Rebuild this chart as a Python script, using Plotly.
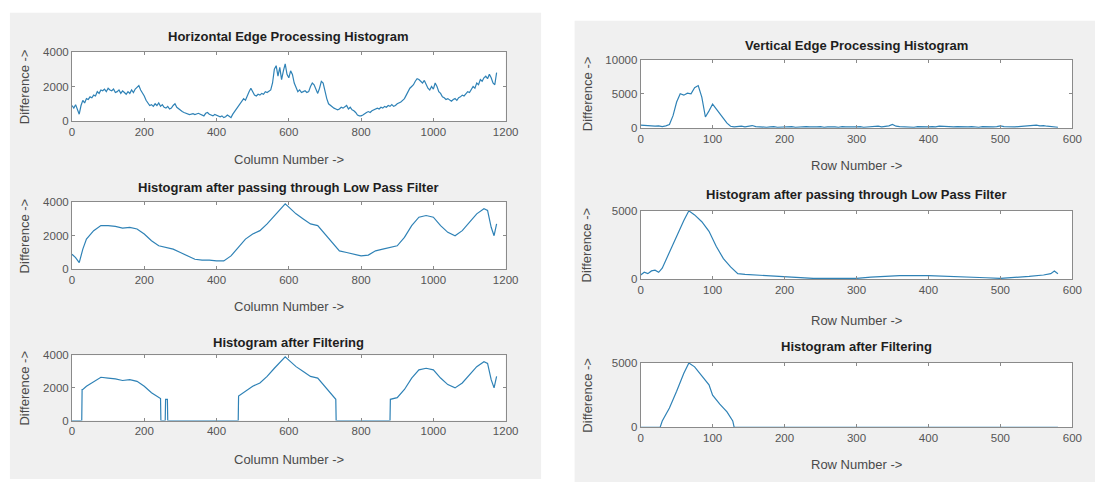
import plotly.graph_objects as go

# ---------------- DATA ----------------
# Left figure: horizontal edge processing (columns)
hor_x = list(range(0, 1180, 5))
hor_edge = [
    900, 750, 950, 600, 400, 900, 1200, 1050, 1300, 1250, 1400, 1350, 1500, 1450, 1700, 1600, 1800, 1750, 1850, 1700,
    1900, 1800, 1750, 1850, 1650, 1700, 1800, 1600, 1750, 1650, 1550, 1700, 1600, 1800, 1650, 1850, 1950, 2050, 1800, 1650,
    1450, 1200, 1050, 900, 950, 850, 1000, 900, 1050, 850, 950, 800, 750, 850, 700, 750, 900, 1000, 800, 700,
    600, 550, 500, 450, 420, 380, 400, 430, 380, 420, 450, 400, 350, 300, 450, 500, 400, 350, 300, 380,
    350, 300, 250, 300, 200, 250, 350, 280, 200, 400, 550, 700, 850, 1000, 1100, 1300, 1200, 1500, 1700, 1900,
    1700, 1500, 1450, 1550, 1500, 1600, 1550, 1700, 1650, 1750, 1800, 2200, 3000, 3200, 2600, 3100, 2400, 2900, 3300, 2700,
    2500, 2900, 2700, 2200, 1900, 1700, 1800, 1650, 1700, 1750, 1650, 1700, 2000, 2200, 2100, 1800, 1600, 1900, 2300, 2200,
    1700, 1300, 1000, 900, 800, 750, 700, 650, 700, 800, 750, 850, 900, 700, 800, 650, 600, 500, 350, 300,
    300, 350, 450, 500, 550, 500, 600, 650, 700, 750, 700, 800, 750, 850, 800, 900, 850, 950, 850, 900,
    1000, 1050, 1100, 1200, 1300, 1500, 1700, 1900, 2000, 2100, 2300, 2450, 2400, 2300, 2200, 2350, 2100, 1900, 1800, 2000,
    1850, 2200, 2000, 1700, 1600, 1400, 1350, 1250, 1300, 1200, 1150, 1250, 1300, 1200, 1350, 1400, 1500, 1450, 1600, 1700,
    1650, 1800, 2000, 1900, 2200, 2100, 2400, 2300, 2500, 2600, 2450, 2700, 2500, 2200, 2100, 2800,
]

lpf_h_x = [0, 10, 20, 30, 40, 60, 80, 100, 120, 140, 160, 180, 200, 220, 240, 260, 280, 300, 320, 340,
           360, 380, 400, 420, 440, 460, 480, 500, 520, 540, 560, 580, 590, 600, 620, 640, 660, 680, 700,
           720, 740, 760, 780, 800, 820, 840, 860, 880, 900, 920, 940, 960, 980, 1000, 1020, 1040, 1060,
           1080, 1100, 1120, 1140, 1150, 1160, 1168, 1175]
lpf_h = [900, 700, 400, 1200, 1800, 2300, 2600, 2600, 2550, 2450, 2500, 2400, 2100, 1700, 1400, 1300, 1200, 1000, 800, 600,
         550, 550, 500, 500, 800, 1300, 1800, 2100, 2300, 2700, 3200, 3700, 3900, 3700, 3300, 3000, 2700, 2600, 2100,
         1600, 1100, 1000, 900, 800, 850, 1100, 1200, 1300, 1400, 1900, 2600, 3100, 3200, 3100, 2600, 2200, 2000,
         2300, 2800, 3300, 3600, 3500, 2500, 2000, 2700]

filt_h_x = [0, 27, 28, 30, 40, 60, 80, 100, 120, 140, 160, 180, 200, 220, 240, 245, 246, 258, 259, 264, 265,
            460, 461, 480, 500, 520, 540, 560, 580, 590, 600, 620, 640, 660, 680, 700, 720, 730, 731,
            880, 881, 900, 920, 940, 960, 980, 1000, 1020, 1040, 1060, 1080, 1100, 1120, 1140, 1150, 1160, 1168, 1175]
filt_h = [0, 0, 1900, 1900, 2100, 2400, 2650, 2600, 2550, 2450, 2500, 2400, 2100, 1700, 1400, 1350, 0, 0, 1300, 1300, 0,
          0, 1500, 1800, 2100, 2300, 2700, 3200, 3700, 3900, 3700, 3300, 3000, 2700, 2600, 2100, 1600, 1300, 0,
          0, 1300, 1400, 1900, 2600, 3100, 3200, 3100, 2600, 2200, 2000, 2300, 2800, 3300, 3600, 3500, 2500, 2000, 2700]

# Right figure: vertical edge processing (rows)
ver_x = list(range(0, 585, 5))
ver_edge = [
    400, 350, 300, 350, 250, 300, 200, 300, 500, 1800,
    3800, 5000, 4800, 5100, 5000, 5900, 6200, 4500, 1600, 2500,
    3500, 2800, 2000, 1400, 700, 250, 150, 200, 250, 150,
    300, 350, 200, 150, 200, 100, 150, 200, 100, 150,
    100, 150, 200, 100, 150, 100, 200, 150, 100, 150, 200, 100, 150, 200, 150, 100, 200, 150, 100, 150,
    150, 200, 100, 150, 200, 150, 250, 150, 200, 300, 500, 250, 200, 150, 200, 150, 100, 200, 150, 100,
    150, 200, 150, 250, 200, 150, 100, 150, 200, 150, 100, 150, 200, 150, 100, 200, 150, 100, 150, 200,
    300, 200, 150, 100, 150, 200, 250, 300, 250, 350, 400, 300, 350, 250, 200, 150, 100,
]

lpf_v_x = [0, 5, 10, 15, 20, 25, 30, 40, 50, 60, 67, 75, 85, 95, 105, 115, 125, 135, 145, 160, 180, 200,
           240, 260, 300, 320, 340, 360, 400, 440, 480, 500, 520, 540, 560, 570, 575, 580]
lpf_v = [300, 500, 400, 600, 650, 500, 800, 2000, 3200, 4300, 5000, 4700, 4200, 3500, 2400, 1500, 900, 400, 350, 300, 200, 150,
         50, 50, 50, 150, 200, 250, 250, 200, 100, 50, 100, 200, 300, 400, 600, 400]

filt_v_x = [0, 27, 30, 40, 50, 60, 67, 75, 85, 95, 100, 110, 120, 128, 130, 580]
filt_v = [0, 0, 500, 1500, 2800, 4200, 5000, 4700, 4000, 3300, 2500, 1800, 1200, 500, 0, 0]

# ---------------- FIGURE ----------------
W, H = 1108, 488
LINE = "#2f82b6"
FONT = "Liberation Sans, Arial, sans-serif"

def px(x):
    return x / W

def py(y):
    return 1 - y / H

panels = [
    dict(x=hor_x, y=hor_edge, title="Horizontal Edge Processing Histogram", xlabel="Column Number ->",
         xr=[0, 1200], xd=200, yr=[0, 4000], yt=[0, 2000, 4000], l=70, r=510, t=47, b=118, ty=31, xly=157),
    dict(x=lpf_h_x, y=lpf_h, title="Histogram after passing through Low Pass Filter", xlabel="Column Number ->",
         xr=[0, 1200], xd=200, yr=[0, 4000], yt=[0, 2000, 4000], l=70, r=510, t=201, b=270, ty=186, xly=308),
    dict(x=filt_h_x, y=filt_h, title="Histogram after Filtering", xlabel="Column Number ->",
         xr=[0, 1200], xd=200, yr=[0, 4000], yt=[0, 2000, 4000], l=70, r=510, t=358, b=425, ty=345, xly=465),
    dict(x=ver_x, y=ver_edge, title="Vertical Edge Processing Histogram", xlabel="Row Number ->",
         xr=[0, 600], xd=100, yr=[0, 10000], yt=[0, 5000, 10000], l=647, r=1085, t=55, b=125, ty=41, xly=164),
    dict(x=lpf_v_x, y=lpf_v, title="Histogram after passing through Low Pass Filter", xlabel="Row Number ->",
         xr=[0, 600], xd=100, yr=[0, 5000], yt=[0, 5000], l=647, r=1085, t=210, b=280, ty=193, xly=322),
    dict(x=filt_v_x, y=filt_v, title="Histogram after Filtering", xlabel="Row Number ->",
         xr=[0, 600], xd=100, yr=[0, 5000], yt=[0, 5000], l=647, r=1085, t=366, b=432, ty=349, xly=470),
]

fig = go.Figure()
shapes = [
    dict(type="rect", xref="paper", yref="paper", x0=px(7), x1=px(546), y0=py(485), y1=py(7),
         fillcolor="#f0f0f0", line=dict(width=0), layer="below"),
    dict(type="rect", xref="paper", yref="paper", x0=px(580), x1=px(1108), y0=py(488), y1=py(15),
         fillcolor="#f0f0f0", line=dict(width=0), layer="below"),
]
annotations = []
layout_axes = {}

for i, p in enumerate(panels, start=1):
    xa = "x" if i == 1 else f"x{i}"
    ya = "y" if i == 1 else f"y{i}"
    fig.add_trace(go.Scatter(x=p["x"], y=p["y"], mode="lines", line=dict(color=LINE, width=1.2),
                             xaxis=xa, yaxis=ya, showlegend=False, hoverinfo="skip"))
    axis_common = dict(showline=True, linecolor="#8a8a8a", linewidth=1, mirror="ticks", ticks="inside",
                       ticklen=3, tickcolor="#8a8a8a", showgrid=False, zeroline=False,
                       tickfont=dict(family=FONT, size=11.5, color="#555555"), fixedrange=True)
    layout_axes["xaxis" if i == 1 else f"xaxis{i}"] = dict(
        axis_common, domain=[px(p["l"]), px(p["r"])], range=p["xr"], dtick=p["xd"], tick0=0,
        anchor=ya)
    layout_axes["yaxis" if i == 1 else f"yaxis{i}"] = dict(
        axis_common, domain=[py(p["b"]), py(p["t"])], range=p["yr"], tickvals=p["yt"],
        ticktext=[str(v) for v in p["yt"]], anchor=xa)
    shapes.append(dict(type="rect", xref="paper", yref="paper", x0=px(p["l"]), x1=px(p["r"]),
                       y0=py(p["b"]), y1=py(p["t"]), fillcolor="white", line=dict(width=0), layer="below"))
    cx = (p["l"] + p["r"]) / 2
    annotations.append(dict(text="<b>" + p["title"] + "</b>", x=px(cx), y=py(p["ty"]), xref="paper", yref="paper",
                            showarrow=False, xanchor="center", yanchor="middle",
                            font=dict(family=FONT, size=13, color="#1e1e1e")))
    annotations.append(dict(text=p["xlabel"], x=px(cx), y=py(p["xly"]), xref="paper", yref="paper",
                            showarrow=False, xanchor="center", yanchor="middle",
                            font=dict(family=FONT, size=13, color="#4a4a4a")))
    ylx = 22 if p["l"] < 300 else 593
    annotations.append(dict(text="Difference ->", x=px(ylx), y=py((p["t"] + p["b"]) / 2), xref="paper",
                            yref="paper", showarrow=False, textangle=-90, xanchor="center", yanchor="middle",
                            font=dict(family=FONT, size=13, color="#4a4a4a")))

fig.update_layout(
    width=W, height=H, margin=dict(l=0, r=0, t=0, b=0),
    paper_bgcolor="white", plot_bgcolor="white",
    shapes=shapes, annotations=annotations, **layout_axes,
)

fig.write_html("out.html", config={"displayModeBar": False, "staticPlot": True},
               post_script="document.body.style.margin='0';document.body.style.overflow='hidden';")
